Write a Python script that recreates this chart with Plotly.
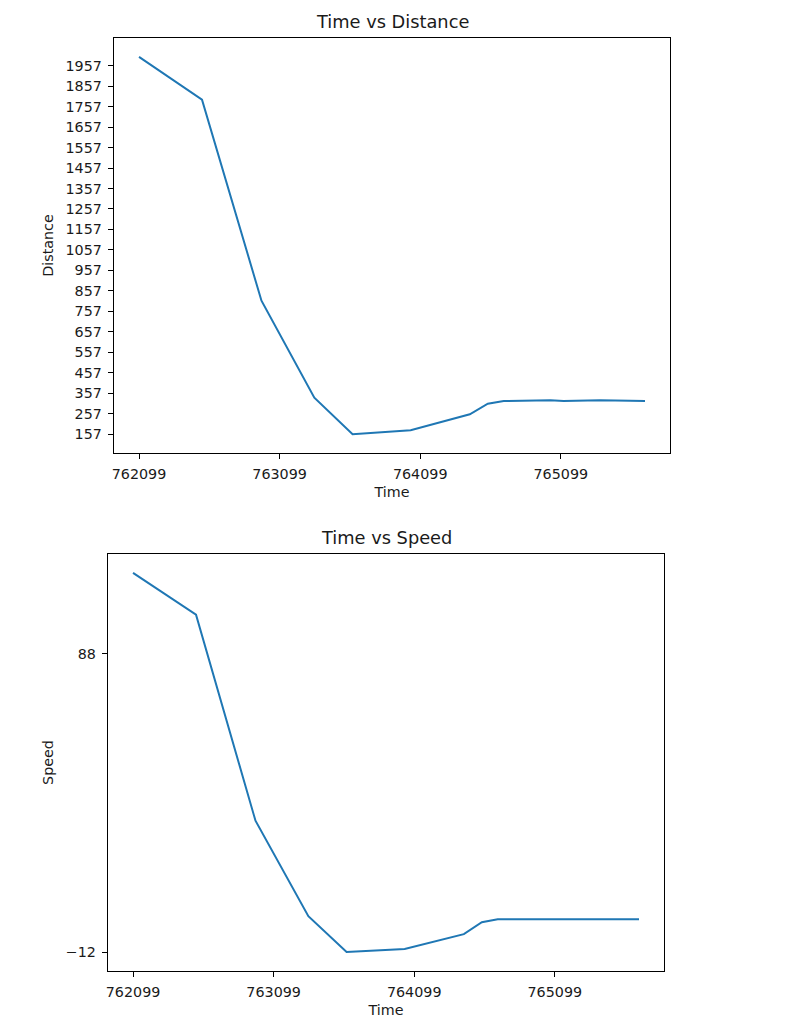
import plotly.graph_objects as go

# ---- data ----
time = [762099, 762547, 762970, 763346, 763618, 764031, 764452, 764580,
        764693, 765025, 765119, 765379, 765698]
distance = [2000, 1791, 809, 335, 157, 176, 254, 306, 319, 322, 319, 322, 319]
speed = [115, 101, 32, 0, -12, -11, -6, -2, -1, -1, -1, -1, -1]

time_ticks = [762099, 763099, 764099, 765099]
distance_ticks = [157, 257, 357, 457, 557, 657, 757, 857, 957, 1057, 1157,
                  1257, 1357, 1457, 1557, 1657, 1757, 1857, 1957]
speed_ticks = [-12, 88]
speed_tick_text = ["\u221212", "88"]

W, H = 789, 1033
FONT = "DejaVu Sans"
BLUE = "#1f77b4"
TXT = "#1a1a1a"


def padded(vals, frac=0.05):
    lo, hi = min(vals), max(vals)
    s = hi - lo
    return [lo - frac * s, hi + frac * s]


fig = go.Figure()
fig.add_trace(go.Scatter(x=time, y=distance, mode="lines",
                         line=dict(color=BLUE, width=2),
                         xaxis="x", yaxis="y", showlegend=False))
fig.add_trace(go.Scatter(x=time, y=speed, mode="lines",
                         line=dict(color=BLUE, width=2),
                         xaxis="x2", yaxis="y2", showlegend=False))

axis_common = dict(showline=True, mirror=True, linecolor="black", linewidth=1,
                   ticks="outside", ticklen=5, tickwidth=1, tickcolor="black",
                   showgrid=False, zeroline=False,
                   tickfont=dict(family=FONT, size=14.3, color=TXT),
                   ticklabelstandoff=3)


def atitle(text, standoff):
    return dict(text=text, font=dict(family=FONT, size=14.3, color=TXT),
                standoff=standoff)


# top subplot box: x 112..670 px, y 38..453 px
top_x = [112 / W, 670 / W]
top_y = [1 - 453 / H, 1 - 38 / H]
# bottom subplot box: x 106..664 px, y 554..971 px
bot_x = [106 / W, 664 / W]
bot_y = [1 - 971 / H, 1 - 554 / H]

fig.update_layout(
    width=W, height=H,
    margin=dict(l=0, r=0, t=0, b=0),
    paper_bgcolor="white", plot_bgcolor="white",
    font=dict(family=FONT, color=TXT),
    xaxis=dict(domain=top_x, anchor="y", range=padded(time),
               tickvals=time_ticks, ticktext=[str(v) for v in time_ticks],
               title=atitle("Time", 5), **axis_common),
    yaxis=dict(domain=top_y, anchor="x", range=padded(distance),
               tickvals=distance_ticks, ticktext=[str(v) for v in distance_ticks],
               title=atitle("Distance", 8), **axis_common),
    xaxis2=dict(domain=bot_x, anchor="y2", range=padded(time),
                tickvals=time_ticks, ticktext=[str(v) for v in time_ticks],
                title=atitle("Time", 5), **axis_common),
    yaxis2=dict(domain=bot_y, anchor="x2", range=padded(speed),
                tickvals=speed_ticks, ticktext=speed_tick_text,
                title=atitle("Speed", 8), **axis_common),
    annotations=[
        dict(text="Time vs Distance", x=sum(top_x) / 2, y=top_y[1],
             xref="paper", yref="paper", xanchor="center", yanchor="bottom",
             yshift=4, showarrow=False,
             font=dict(family=FONT, size=17.8, color=TXT)),
        dict(text="Time vs Speed", x=sum(bot_x) / 2, y=bot_y[1],
             xref="paper", yref="paper", xanchor="center", yanchor="bottom",
             yshift=4, showarrow=False,
             font=dict(family=FONT, size=17.8, color=TXT)),
    ],
)

fig.write_html("out.html")
